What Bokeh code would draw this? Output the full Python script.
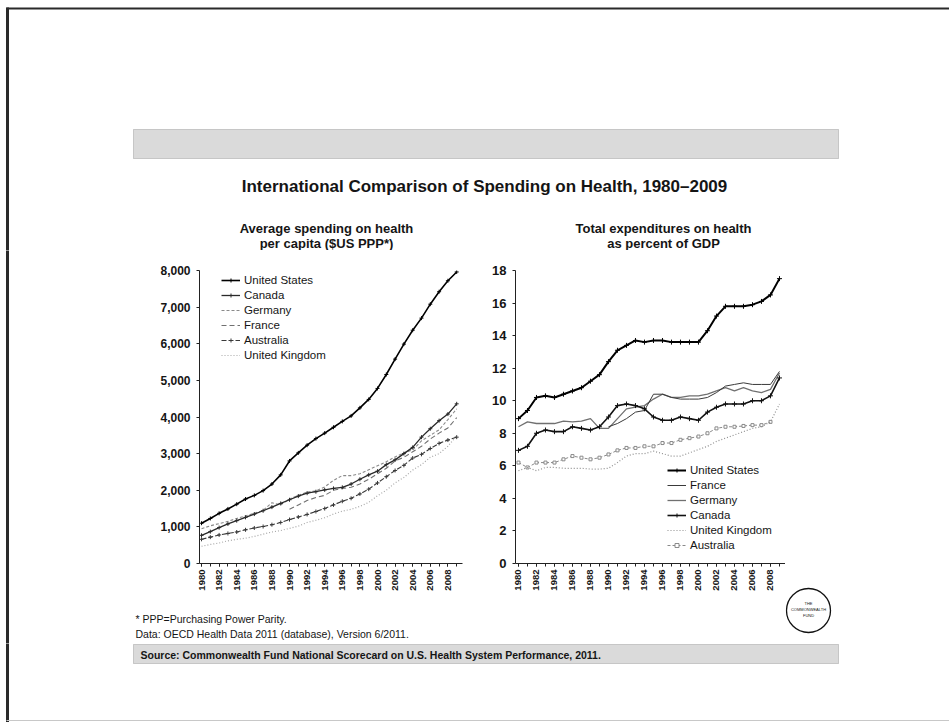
import numpy as np
from bokeh.plotting import figure
from bokeh.models import Range1d, FixedTicker, NumeralTickFormatter, Legend, LegendItem, ColumnDataSource
from bokeh.layouts import row, column
from bokeh.embed import file_html
from bokeh.resources import INLINE
from bokeh.core.properties import value

nan = float("nan")
years = list(range(1980, 2010))
year_ticks = list(range(1980, 2009, 2))

# Average spending on health per capita ($US PPP)
spend_us = [1100, 1230, 1370, 1490, 1620, 1760, 1860, 1990, 2170, 2420, 2800, 3020, 3230, 3410, 3560,
            3720, 3880, 4030, 4250, 4480, 4780, 5160, 5580, 5990, 6370, 6700, 7080, 7420, 7720, 7960]
spend_canada = [770, 870, 980, 1080, 1170, 1260, 1350, 1440, 1540, 1640, 1740, 1840, 1920, 1960, 2010,
                2050, 2080, 2170, 2300, 2420, 2520, 2700, 2830, 3000, 3170, 3450, 3680, 3900, 4080, 4360]
spend_germany = [950, 1030, 1090, 1150, 1230, 1300, 1370, 1450, 1660, 1600, 1760, 1860, 1950, 1980, 2090,
                 2270, 2400, 2400, 2450, 2560, 2670, 2780, 2910, 3020, 3100, 3350, 3500, 3650, 3930, 4220]
spend_france = [nan, nan, nan, nan, nan, nan, nan, nan, nan, nan, 1480, 1600, 1720, 1800, 1860,
                2000, 2050, 2080, 2170, 2300, 2450, 2600, 2800, 2900, 3050, 3200, 3400, 3560, 3700, 3980]
spend_australia = [660, 720, 780, 820, 860, 920, 970, 1010, 1060, 1120, 1200, 1270, 1340, 1420, 1500,
                   1600, 1700, 1780, 1900, 2030, 2200, 2370, 2540, 2680, 2880, 2980, 3140, 3280, 3370, 3450]
spend_uk = [470, 520, 560, 620, 660, 690, 740, 800, 860, 900, 960, 1020, 1120, 1180, 1250,
            1350, 1430, 1480, 1560, 1670, 1850, 2000, 2200, 2350, 2550, 2700, 2900, 3000, 3200, 3490]

# Total expenditures on health as percent of GDP
gdp_us = [8.9, 9.4, 10.2, 10.3, 10.2, 10.4, 10.6, 10.8, 11.2, 11.6, 12.4, 13.1, 13.4, 13.7, 13.6,
          13.7, 13.7, 13.6, 13.6, 13.6, 13.6, 14.3, 15.2, 15.8, 15.8, 15.8, 15.9, 16.1, 16.5, 17.5]
gdp_france = [nan, nan, nan, nan, nan, nan, nan, nan, nan, nan, 8.4, 8.6, 8.9, 9.3, 9.4,
              10.4, 10.4, 10.2, 10.1, 10.1, 10.1, 10.2, 10.5, 10.9, 11.0, 11.1, 11.0, 11.0, 11.0, 11.8]
gdp_germany = [8.4, 8.7, 8.6, 8.6, 8.6, 8.75, 8.7, 8.75, 8.9, 8.3, 8.3, 8.9, 9.5, 9.6, 9.7,
               10.1, 10.4, 10.2, 10.2, 10.3, 10.3, 10.4, 10.6, 10.8, 10.6, 10.8, 10.6, 10.5, 10.7, 11.7]
gdp_canada = [6.95, 7.2, 8.0, 8.2, 8.1, 8.1, 8.4, 8.3, 8.2, 8.4, 9.0, 9.7, 9.8, 9.7, 9.5,
              9.0, 8.8, 8.8, 9.0, 8.9, 8.8, 9.3, 9.6, 9.8, 9.8, 9.8, 10.0, 10.0, 10.3, 11.4]
gdp_uk = [5.7, 5.9, 5.7, 5.9, 5.9, 5.85, 5.85, 5.85, 5.8, 5.8, 5.85, 6.2, 6.6, 6.75, 6.75,
          6.9, 6.75, 6.6, 6.6, 6.8, 7.0, 7.2, 7.5, 7.7, 7.9, 8.1, 8.3, 8.4, 8.7, 9.8]
gdp_australia = [6.2, 5.9, 6.2, 6.2, 6.2, 6.4, 6.6, 6.5, 6.4, 6.5, 6.7, 6.95, 7.1, 7.1, 7.2,
                 7.2, 7.4, 7.4, 7.6, 7.7, 7.8, 8.0, 8.3, 8.4, 8.4, 8.45, 8.5, 8.5, 8.7, nan]

left_ticks = list(range(0, 8001, 1000))
right_ticks = list(range(0, 19, 2))

FONT = "Liberation Sans"
INK = "#151515"
BORDER = "#2a2a2a"


def deco(w, h, x0, y0):
    p = figure(width=w, height=h, x_range=Range1d(x0, x0 + w), y_range=Range1d(y0 + h, y0),
               toolbar_location=None, output_backend="svg", x_axis_type=None, y_axis_type=None,
               min_border=0, min_border_left=0, min_border_right=0, min_border_top=0, min_border_bottom=0)
    p.outline_line_color = None
    p.grid.visible = False
    p.background_fill_color = "white"
    p.border_fill_color = "white"
    return p


def txt(p, x, y, s, size, bold=False, align="left", color=INK):
    p.text(x=[x], y=[y], text=[s], text_font=value(FONT), text_font_size=value(size),
           text_font_style="bold" if bold else "normal", text_align=align, text_baseline="middle",
           text_color=color)


def band(p, top, bottom):
    p.quad(left=[133], right=[838], top=[top], bottom=[bottom], fill_color="#dadada",
           line_color="#a0a0a0", line_dash="1 1", line_width=1)


# ---------- header ----------
header = deco(949, 250, 0, 0)
header.segment(x0=[6], y0=[8], x1=[960], y1=[8], line_color=BORDER, line_width=2)
header.segment(x0=[7], y0=[7], x1=[7], y1=[260], line_color=BORDER, line_width=3)
band(header, 129, 158)
txt(header, 484, 186, "International Comparison of Spending on Health, 1980\u20132009", "17px", True, "center")
txt(header, 326, 228, "Average spending on health", "13px", True, "center")
txt(header, 326, 243, "per capita ($US PPP*)", "13px", True, "center")
txt(header, 663, 228, "Total expenditures on health", "13px", True, "center")
txt(header, 663, 243, "as percent of GDP", "13px", True, "center")

# ---------- left pad ----------
leftpad = deco(10, 393, 0, 250)
leftpad.segment(x0=[7], y0=[240], x1=[7], y1=[660], line_color=BORDER, line_width=3)


def style_axes(p, ylabel_size):
    for ax in (p.xaxis[0], p.yaxis[0]):
        ax.axis_line_color = "#222222"
        ax.axis_line_width = 1
        ax.major_tick_line_color = "#222222"
        ax.minor_tick_line_color = "#222222"
        ax.major_label_text_font = FONT
        ax.major_label_text_font_style = "bold"
        ax.major_label_text_color = INK
    p.xaxis.ticker = FixedTicker(ticks=year_ticks, minor_ticks=years)
    p.xaxis.major_label_orientation = np.pi / 2
    p.xaxis.major_label_text_font_size = "9.5px"
    p.xaxis.major_tick_out = 3
    p.xaxis.major_tick_in = 0
    p.xaxis.minor_tick_out = 3
    p.xaxis.minor_tick_in = 0
    p.xaxis.major_label_standoff = 3
    p.yaxis.major_label_text_font_size = ylabel_size
    p.yaxis.major_tick_out = 3
    p.yaxis.major_tick_in = 0
    p.yaxis.minor_tick_out = 0
    p.yaxis.minor_tick_in = 0
    p.yaxis.major_label_standoff = 6
    p.grid.visible = False
    p.outline_line_color = None
    p.background_fill_color = "white"
    p.border_fill_color = "white"


def series(p, src, col, color, width, dash="solid", marker=None, msize=4, mfill=None):
    rs = [p.line("year", col, source=src, line_color=color, line_width=width, line_dash=dash)]
    if marker:
        rs.append(p.scatter("year", col, source=src, marker=marker, size=msize, line_color=color,
                            fill_color=mfill if mfill else color, line_width=1))
    return rs


def make_legend(items, loc):
    return Legend(items=items, location=loc, background_fill_alpha=0, border_line_color=None,
                  label_text_font=FONT, label_text_font_size="11.5px", label_text_color=INK,
                  glyph_width=19, glyph_height=10, label_height=15, label_standoff=4,
                  spacing=0, padding=4, margin=0)


# ---------- left chart ----------
lsrc = ColumnDataSource(dict(year=np.array(years, dtype=float), us=np.array(spend_us, dtype=float),
                             canada=np.array(spend_canada, dtype=float),
                             germany=np.array(spend_germany, dtype=float),
                             france=np.array(spend_france, dtype=float),
                             australia=np.array(spend_australia, dtype=float),
                             uk=np.array(spend_uk, dtype=float)))
left = figure(width=460, height=355, x_range=Range1d(1979.77, 2009.66), y_range=Range1d(0, 8000),
              toolbar_location=None, output_backend="svg",
              min_border_left=189, min_border_right=8, min_border_top=10, min_border_bottom=42)
style_axes(left, "12px")
left.yaxis.ticker = FixedTicker(ticks=left_ticks)
left.yaxis.formatter = NumeralTickFormatter(format="0,0")

l_uk = series(left, lsrc, "uk", "#a8a8a8", 1.2, "1 2")
l_fr = series(left, lsrc, "france", "#707070", 1.1, "5 3")
l_au = series(left, lsrc, "australia", "#3a3a3a", 1.1, "5 2", "cross", 4)
l_de = series(left, lsrc, "germany", "#8a8a8a", 1.1, "3 2")
l_ca = series(left, lsrc, "canada", "#2a2a2a", 1.3, "solid", "cross", 4)
l_us = series(left, lsrc, "us", "#000000", 1.6, "solid", "cross", 4)

left.add_layout(make_legend([
    LegendItem(label="United States", renderers=l_us),
    LegendItem(label="Canada", renderers=l_ca),
    LegendItem(label="Germany", renderers=l_de),
    LegendItem(label="France", renderers=l_fr),
    LegendItem(label="Australia", renderers=l_au),
    LegendItem(label="United Kingdom", renderers=l_uk),
], (22, 201)))

# ---------- right chart ----------
rsrc = ColumnDataSource(dict(year=np.array(years, dtype=float), us=np.array(gdp_us, dtype=float),
                             france=np.array(gdp_france, dtype=float),
                             germany=np.array(gdp_germany, dtype=float),
                             canada=np.array(gdp_canada, dtype=float),
                             uk=np.array(gdp_uk, dtype=float),
                             australia=np.array(gdp_australia, dtype=float)))
right = figure(width=315, height=355, x_range=Range1d(1979.67, 2009.67), y_range=Range1d(0, 18),
               toolbar_location=None, output_backend="svg",
               min_border_left=45, min_border_right=0, min_border_top=20, min_border_bottom=32)
style_axes(right, "13px")
right.yaxis.ticker = FixedTicker(ticks=right_ticks)

r_au = series(right, rsrc, "australia", "#8a8a8a", 1.0, "3 2", "square", 3, "white")
r_uk = series(right, rsrc, "uk", "#8f8f8f", 1.2, "1 2")
r_de = series(right, rsrc, "germany", "#707070", 1.3)
r_fr = series(right, rsrc, "france", "#3a3a3a", 1.0)
r_ca = series(right, rsrc, "canada", "#111111", 1.6, "solid", "cross", 5)
r_us = series(right, rsrc, "us", "#000000", 2.0, "solid", "cross", 5)

right.add_layout(make_legend([
    LegendItem(label="United States", renderers=r_us),
    LegendItem(label="France", renderers=r_fr),
    LegendItem(label="Germany", renderers=r_de),
    LegendItem(label="Canada", renderers=r_ca),
    LegendItem(label="United Kingdom", renderers=r_uk),
    LegendItem(label="Australia", renderers=r_au),
], (152, 11)))

# ---------- footnotes ----------
foot = deco(775, 38, 10, 605)
txt(foot, 135, 618, "* PPP=Purchasing Power Parity.", "10.5px")
txt(foot, 135, 633, "Data: OECD Health Data 2011 (database), Version 6/2011.", "10.5px")

# ---------- right pad (logo) ----------
rightpad = deco(164, 393, 785, 250)
rightpad.circle(x=[808], y=[610], radius=22, fill_color=None, line_color="#111111", line_width=1.3)
txt(rightpad, 808, 603, "THE", "4px", False, "center")
txt(rightpad, 808, 609, "COMMONWEALTH", "4px", False, "center")
txt(rightpad, 808, 615, "FUND", "4px", False, "center")

# ---------- bottom ----------
bottom = deco(949, 79, 0, 643)
bottom.segment(x0=[7], y0=[630], x1=[7], y1=[730], line_color=BORDER, line_width=3)
bottom.segment(x0=[6], y0=[720], x1=[960], y1=[720], line_color="#c8c8c8", line_width=1)
band(bottom, 644, 663)
txt(bottom, 140, 654, "Source: Commonwealth Fund National Scorecard on U.S. Health System Performance, 2011.",
    "10.5px", True)

layout = column(header,
                row(leftpad, column(row(left, right), foot), rightpad),
                bottom)

open("out.html", "w").write(file_html(layout, INLINE))
